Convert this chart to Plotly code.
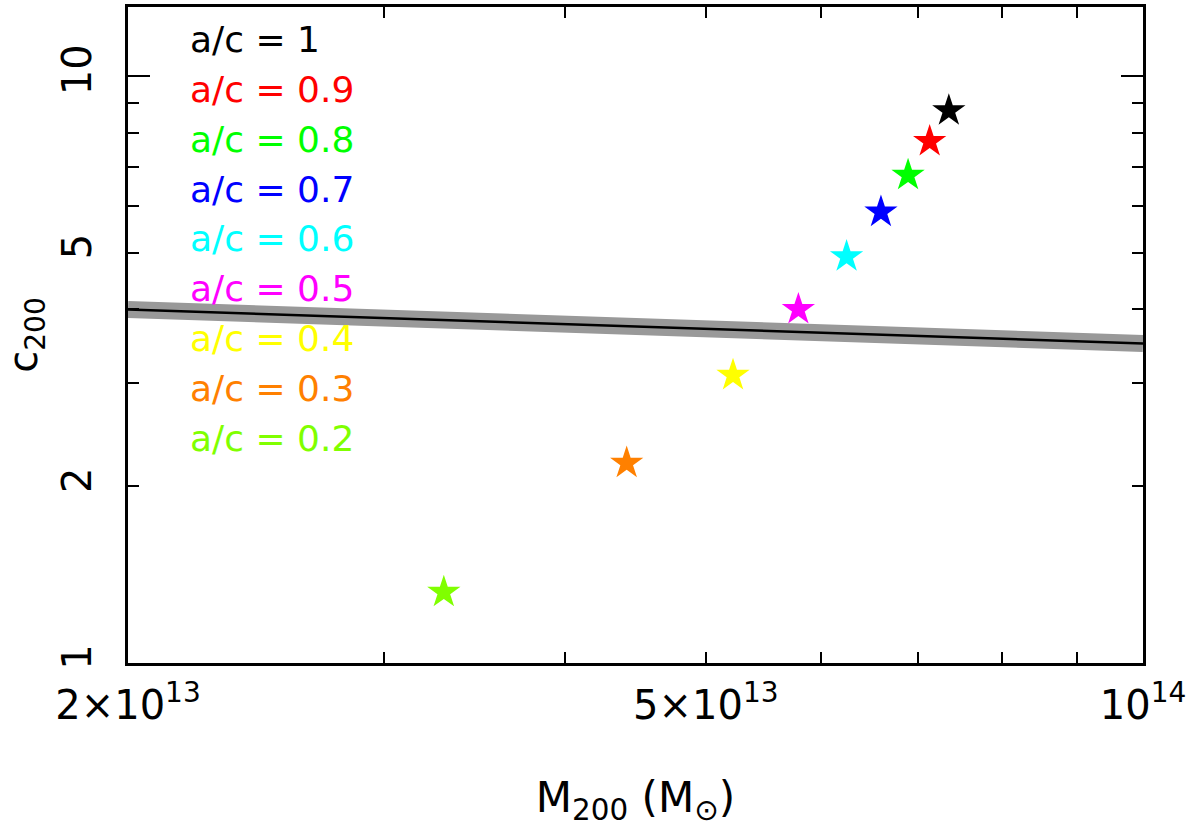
import plotly.graph_objects as go

# axis ratio of each halo model, its colour, and where it lands in the M-c plane
ratios = ["1", "0.9", "0.8", "0.7", "0.6", "0.5", "0.4", "0.3", "0.2"]
colors = ["#000000", "#ff0000", "#00ff00", "#0000ff", "#00ffff",
          "#ff00ff", "#ffff00", "#ff8000", "#80ff00"]
m200 = [7.35e13, 7.13e13, 6.89e13, 6.60e13, 6.25e13, 5.79e13, 5.22e13, 4.41e13, 3.30e13]
c200 = [8.72, 7.73, 6.77, 5.86, 4.92, 4.00, 3.09, 2.19, 1.32]

# mass-concentration relation (black line with grey band)
relation_m = [2e13, 1e14]
relation_c = [4.00, 3.50]

x_tickvals = [2e13, 3e13, 4e13, 5e13, 6e13, 7e13, 8e13, 9e13, 1e14]
x_ticktext = ["2×10<sup>13</sup>", "", "", "5×10<sup>13</sup>", "", "", "", "", "10<sup>14</sup>"]
y_tickvals = [1, 2, 3, 4, 5, 6, 7, 8, 9, 10]
y_ticktext = ["1", "2", "", "", "5", "", "", "", "", "10"]

FONT = "DejaVu Sans"

fig = go.Figure()

# grey scatter band, then the relation itself
fig.add_trace(go.Scatter(x=relation_m, y=relation_c, mode="lines",
                         line=dict(color="#999999", width=17),
                         showlegend=False, hoverinfo="skip"))
fig.add_trace(go.Scatter(x=relation_m, y=relation_c, mode="lines",
                         line=dict(color="black", width=2.5),
                         showlegend=False))

for r, col, m, c in zip(ratios, colors, m200, c200):
    fig.add_trace(go.Scatter(x=[m], y=[c], mode="markers",
                             marker=dict(symbol="star", size=25, color=col, line=dict(width=0)),
                             name="a/c = " + r, showlegend=False))

# dummy trace so the overlay axis (long decade ticks) gets drawn
fig.add_trace(go.Scatter(x=m200[:1], y=c200[:1], yaxis="y2", mode="markers",
                         marker=dict(opacity=0), showlegend=False, hoverinfo="skip"))

# a/c labels in the upper left corner
for i, (r, col) in enumerate(zip(ratios, colors)):
    fig.add_annotation(x=0.059, y=1 - (33 + 50 * i) / 659, xref="paper", yref="paper",
                       text="a/c = " + r, showarrow=False, xanchor="left", yanchor="middle",
                       font=dict(family=FONT, size=36, color=col))

fig.update_layout(
    width=1200, height=832,
    margin=dict(l=128, r=57, t=4, b=169),
    plot_bgcolor="white", paper_bgcolor="white",
    font=dict(family=FONT, size=40, color="black"),
    xaxis=dict(type="log", range=[13.30103, 14.0],
               tickvals=x_tickvals, ticktext=x_ticktext,
               ticks="inside", ticklen=11, tickwidth=2, tickcolor="black",
               showline=True, linewidth=2.5, linecolor="black", mirror="ticks",
               showgrid=False, zeroline=False,
               tickfont=dict(size=40), ticklabelstandoff=5,
               title=dict(text="M<sub>200</sub> (M<sub>⊙</sub>)", font=dict(size=42), standoff=56)),
    yaxis=dict(type="log", range=[0, 1.117],
               tickvals=y_tickvals, ticktext=y_ticktext, tickangle=-90,
               ticks="inside", ticklen=11, tickwidth=2, tickcolor="black",
               showline=True, linewidth=2.5, linecolor="black", mirror="ticks",
               showgrid=False, zeroline=False,
               tickfont=dict(size=40), ticklabelstandoff=18,
               title=dict(text="c<sub>200</sub>", font=dict(size=40), standoff=20)),
    yaxis2=dict(type="log", range=[0, 1.117], overlaying="y", side="left",
                tickvals=[1, 10], ticks="inside", ticklen=22, tickwidth=2, tickcolor="black",
                showticklabels=False, showline=False, mirror="ticks",
                showgrid=False, zeroline=False),
)

# drop the browser's default body margin so the figure sits at the page corner
fig.write_html("out.html", config={"displayModeBar": False},
               post_script="document.body.style.margin='0px';")
